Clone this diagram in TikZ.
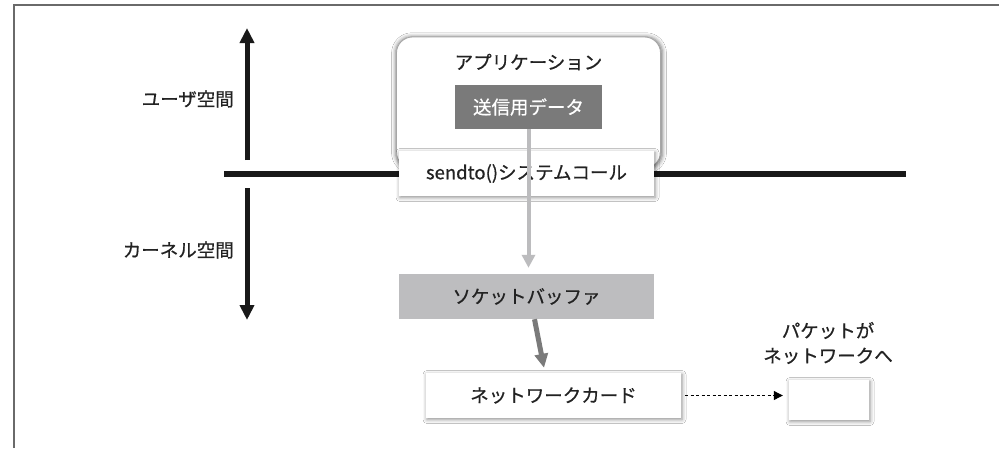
\documentclass[tikz,border=0pt]{standalone}
\usepackage{fontspec}
\setmainfont{Noto Sans CJK JP}[FakeBold=0.7]
\usetikzlibrary{arrows.meta,shadows.blur,calc}
\definecolor{framegray}{HTML}{6A6A6A}
\definecolor{darkbox}{HTML}{7A7A7A}
\definecolor{lightbox}{HTML}{BDBDBF}
\definecolor{lightarrow}{HTML}{BCBCBE}
\definecolor{txt}{HTML}{222222}
\tikzset{
  x=1pt, y=-1pt,
  lbl/.style={font=\fontsize{18.5}{25}\selectfont, text=txt, inner sep=0pt},
  shadowed/.style={blur shadow={shadow xshift=1pt, shadow yshift=-1.5pt, shadow blur radius=4pt, shadow opacity=45}},
  whitebox/.style={draw=none, fill=white, shadowed, minimum width=255pt, minimum height=45pt, inner sep=0pt, lbl},
  bigtip/.style={-{Triangle[length=15pt,width=14pt]}, line width=5pt, draw=black!90},
}
\begin{document}
\begin{tikzpicture}
\useasboundingbox (0,0) rectangle (999,448);
\fill[white] (0,0) rectangle (999,448);
% frame
\draw[framegray, line width=2pt] (14,448) -- (14,5) -- (999,5);

% user/kernel divider
\coordinate (hl) at (224,174);
\coordinate (hr) at (906,174);
\draw[line width=6pt, black!90] (hl) -- (hr);
\coordinate (ua) at (247,160);
\coordinate (ub) at (247,28);
\coordinate (ka) at (247,188);
\coordinate (kb) at (247,320);
\draw[bigtip] (ua) -- (ub);
\draw[bigtip] (ka) -- (kb);
\node[lbl, anchor=east] (user) at (234,99) {ユーザ空間};
\node[lbl, anchor=east] (kernel) at (234,250) {カーネル空間};

% application
\node[draw=black!35, line width=0.8pt, fill=white, rounded corners=16pt,
      blur shadow={shadow xshift=0.5pt, shadow yshift=-0.5pt, shadow blur radius=4pt, shadow opacity=55, shadow scale=1.01},
      minimum width=264pt, minimum height=131pt] (app) at (528.5,102.5) {};
\node[lbl] (apptxt) at (528.5,62) {アプリケーション};
\node[fill=darkbox, minimum width=147pt, minimum height=44pt, inner sep=0pt,
      lbl, text=white] (data) at (528.5,107) {送信用データ};

% sendto box
\node[whitebox] (sendto) at (526.5,173.5) {sendto()システムコール};

% socket buffer
\node[fill=lightbox, minimum width=255pt, minimum height=45pt, inner sep=0pt, lbl] (sock) at (526.5,296.5) {ソケットバッファ};

% network card
\node[whitebox] (nic) at (553.5,395.5) {ネットワークカード};
\node[draw=none, fill=white, shadowed, minimum width=80pt, minimum height=40pt, inner sep=0pt] (dest) at (829,400) {};
\node[lbl, align=center] (pkt) at (828,343) {パケットが\\ネットワークへ};

% arrows
\draw[lightarrow, line width=4pt, -{Triangle[length=13pt,width=13pt]}, shorten >=6pt]
  (data.south) -- (data.south |- sock.north);
\draw[darkbox, line width=5pt, -{Triangle[length=14pt,width=13pt]}]
  ($(sock.south)+(8,0)$) -- ($(nic.north)+(-9.5,-5)$);
\draw[black, dashed, dash pattern=on 3pt off 2.5pt, line width=1pt, -{Triangle[length=9pt,width=9pt]}, shorten >=6pt, shorten <=4pt]
  (nic.east) -- (nic.east -| dest.west);
\end{tikzpicture}
\end{document}
